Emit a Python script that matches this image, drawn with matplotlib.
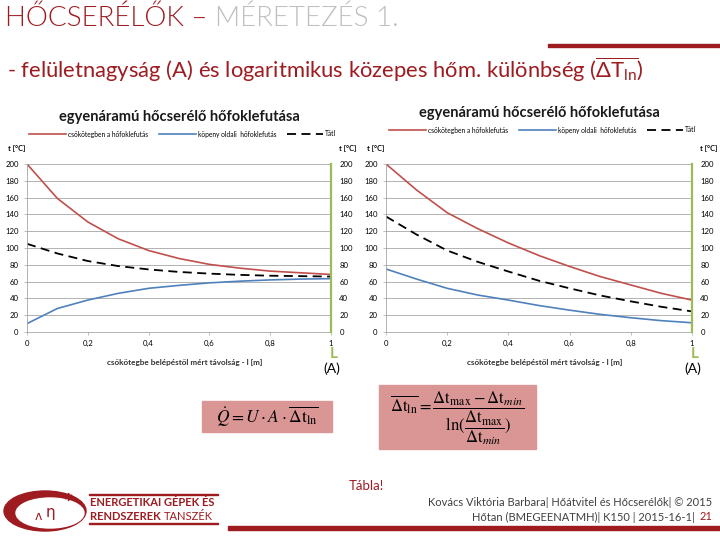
import numpy as np
import matplotlib.pyplot as plt
from matplotlib.patches import Rectangle, Ellipse

plt.rcParams['font.family'] = ['Lato', 'DejaVu Sans']
plt.rcParams['mathtext.fontset'] = 'custom'
plt.rcParams['mathtext.rm'] = 'Lato'
plt.rcParams['mathtext.it'] = 'Lato:italic'
plt.rcParams['mathtext.bf'] = 'Lato:bold'

# távolság a csőkötegbe belépéstől [m]
hossz = [0.0, 0.1, 0.2, 0.3, 0.4, 0.5, 0.6, 0.7, 0.8, 0.9, 1.0]

# egyenáram (bal oldali diagram)
egyen_cso = [200, 159, 131, 111, 97, 87.5, 80.5, 76, 72.5, 70.5, 68.5]
egyen_kopeny = [10, 28, 38, 46, 52, 55.5, 58.5, 60.5, 62, 63, 63.5]
egyen_atl = [105, 93.5, 84.5, 78.5, 74.5, 71.5, 69.5, 68, 67, 66.5, 66]

# jobb oldali diagram
ellen_cso = [200, 169, 142, 123, 106, 91, 78, 66, 56, 46, 38]
ellen_kopeny = [75, 63, 52, 44, 38, 31.5, 26, 21, 17, 13.5, 11]
ellen_atl = [137.5, 116, 97, 83.5, 72, 61, 52, 43.5, 36.5, 30, 24.5]

x_ticks = [0, 0.2, 0.4, 0.6, 0.8, 1.0]
x_labels = ['0', '0,2', '0,4', '0,6', '0,8', '1']
y_ticks = list(range(0, 201, 20))

cim = 'egyenáramú hőcserélő hőfoklefutása'
leg_nevek = ['csőkötegben a hőfoklefutás', 'köpeny oldali  hőfoklefutás', 'Tátl']
x_cimke = 'csőkötegbe belépéstől mért távolság - l [m]'

PIROS = '#c0504d'
KEK = '#4f81bd'
ZOLD = '#9bbb59'
BORDO = '#9e1b20'

W, H = 720, 540
fig = plt.figure(figsize=(7.2, 5.4), dpi=100)


def fx(x):
    return x / W


def fy(y):
    return 1 - y / H


def diagram(bal, jobb, cim_y, leg_y, cso, kopeny, atl):
    ax = fig.add_axes([fx(bal), fy(332), fx(jobb - bal), (332 - 164) / H])
    ax.plot(hossz, cso, color=PIROS, lw=1.2, label=leg_nevek[0])
    ax.plot(hossz, kopeny, color=KEK, lw=1.2, label=leg_nevek[1])
    ax.plot(hossz, atl, color='black', lw=1.3, ls=(0, (5, 3)), label=leg_nevek[2])
    ax.set_xlim(0, 1)
    ax.set_ylim(0, 200)
    ax.set_yticks(y_ticks)
    ax.set_xticks(x_ticks)
    ax.set_xticklabels(x_labels)
    ax.grid(axis='y', color='#a6a6a6', lw=0.6)
    ax.set_axisbelow(True)
    ax.tick_params(labelsize=5.6, length=2, width=0.5, color='#a6a6a6', pad=4)
    for s in ['top', 'right']:
        ax.spines[s].set_visible(False)
    ax.spines['left'].set_color('#a6a6a6')
    ax.spines['bottom'].set_color('#a6a6a6')
    ax.spines['left'].set_linewidth(0.6)
    ax.spines['bottom'].set_linewidth(0.6)

    ax2 = ax.twinx()
    ax2.set_ylim(0, 200)
    ax2.set_yticks(y_ticks)
    ax2.tick_params(labelsize=5.6, length=0, pad=6)
    for s in ['top', 'left', 'bottom']:
        ax2.spines[s].set_visible(False)
    ax2.spines['right'].set_color(ZOLD)
    ax2.spines['right'].set_linewidth(1.6)

    kozep = (bal + jobb) / 2
    fig.text(fx(kozep), fy(cim_y), cim, ha='center', va='center',
             fontsize=10.5, fontweight='bold', color='#1a1a1a')
    ax.legend(loc='center', bbox_to_anchor=(fx(kozep + 4), fy(leg_y)),
              bbox_transform=fig.transFigure, ncol=3, frameon=False,
              fontsize=4.8, handlelength=5.5, columnspacing=1.6, handletextpad=0.3)
    fig.text(fx(bal - 19), fy(148), 't [°C]', ha='left', va='center',
             fontsize=5.3, fontweight='bold')
    fig.text(fx(jobb + 8), fy(148), 't [°C]', ha='left', va='center',
             fontsize=5.3, fontweight='bold')
    fig.text(fx(kozep + 6), fy(362), x_cimke, ha='center', va='center',
             fontsize=5.9, fontweight='bold', color='#333333')
    fig.text(fx(jobb + 3), fy(354), 'L', ha='center', va='center',
             fontsize=11, color=ZOLD, fontweight='bold')
    fig.text(fx(jobb + 1), fy(369), '(A)', ha='center', va='center',
             fontsize=10)
    return ax


diagram(27, 331, 117, 134, egyen_cso, egyen_kopeny, egyen_atl)
diagram(386, 692, 113, 130, ellen_cso, ellen_kopeny, ellen_atl)

# fejléc
t1 = fig.text(fx(5), fy(18), 'HŐCSERÉLŐK – ', ha='left', va='center',
              fontsize=20, color=BORDO, fontweight=350)
fig.canvas.draw()
bb = t1.get_window_extent()
fig.text(bb.x1 / W, fy(18), 'MÉRETEZÉS 1.', ha='left', va='center',
         fontsize=20, color='#bfbfbf', fontweight=350)
fig.add_artist(Rectangle((fx(548), fy(47)), fx(172), 3 / H,
                         color=BORDO, transform=fig.transFigure))
fig.text(fx(7), fy(70),
         '- felületnagyság (A) és logaritmikus közepes hőm. különbség '
         r'($\overline{\Delta \mathrm{T}_{\mathrm{ln}}}$)',
         ha='left', va='center', fontsize=15.8, color=BORDO)

# képletek
RÓZSA = '#d99694'
fig.add_artist(Rectangle((fx(202), fy(432)), fx(130), 31 / H,
                         color=RÓZSA, transform=fig.transFigure))
fig.text(fx(267), fy(417), r'$\dot{Q} = U \cdot A \cdot \overline{\Delta \mathrm{t}_{\mathrm{ln}}}$',
         ha='center', va='center', fontsize=12.5, math_fontfamily='stix')
fig.add_artist(Rectangle((fx(379), fy(449)), fx(157), 64 / H,
                         color=RÓZSA, transform=fig.transFigure))
fig.text(fx(457), fy(418),
         r'$\overline{\Delta \mathrm{t}_{\mathrm{ln}}} = '
         r'\dfrac{\Delta \mathrm{t}_{\mathrm{max}} - \Delta \mathrm{t}_{min}}'
         r'{\mathrm{ln}(\dfrac{\Delta \mathrm{t}_{\mathrm{max}}}{\Delta \mathrm{t}_{min}})}$',
         ha='center', va='center', fontsize=12, math_fontfamily='stix')

fig.text(fx(366), fy(486), 'Tábla!', ha='center', va='center',
         fontsize=9.5, color=BORDO)

# lábléc
fig.text(fx(712), fy(502), 'Kovács Viktória Barbara| Hőátvitel és Hőcserélők| © 2015',
         ha='right', va='center', fontsize=8, color='#404040')
t2 = fig.text(fx(712), fy(517), '21', ha='right', va='center',
              fontsize=8, color=BORDO)
fig.canvas.draw()
bb2 = t2.get_window_extent()
fig.text(bb2.x0 / W - 0.002, fy(517), 'Hőtan (BMEGEENATMH)| K150 | 2015-16-1| ',
         ha='right', va='center', fontsize=8, color='#404040')
fig.add_artist(Rectangle((fx(228), fy(530)), fx(492), 4 / H,
                         color=BORDO, transform=fig.transFigure))

# logó
fig.add_artist(Ellipse((fx(45), fy(511)), fx(82), 40 / H, color=BORDO,
                       transform=fig.transFigure))
fig.add_artist(Ellipse((fx(50), fy(513)), fx(68), 30 / H, color='white',
                       transform=fig.transFigure))
fig.text(fx(38), fy(516), 'ʌ', ha='center', va='center', fontsize=9,
         color=BORDO, family=['DejaVu Sans'])
fig.text(fx(50), fy(512), 'η', ha='center', va='center', fontsize=11,
         color=BORDO, family=['DejaVu Sans'])
fig.text(fx(68), fy(498), '✻', ha='center', va='center', fontsize=8,
         color=BORDO, family=['DejaVu Sans'])
fig.add_artist(Rectangle((fx(89), fy(495)), fx(129), 0.8 / H,
                         color=BORDO, transform=fig.transFigure))
fig.add_artist(Rectangle((fx(89), fy(524)), fx(129), 0.8 / H,
                         color=BORDO, transform=fig.transFigure))
fig.text(fx(90), fy(503), 'ENERGETIKAI GÉPEK ÉS', ha='left', va='center',
         fontsize=8, fontweight='bold', color=BORDO)
t3 = fig.text(fx(90), fy(517), 'RENDSZEREK ', ha='left', va='center',
              fontsize=8, fontweight='bold', color=BORDO)
fig.canvas.draw()
bb3 = t3.get_window_extent()
fig.text(bb3.x1 / W, fy(517), 'TANSZÉK', ha='left', va='center',
         fontsize=8, color=BORDO)

fig.savefig('out.png', dpi=100)
